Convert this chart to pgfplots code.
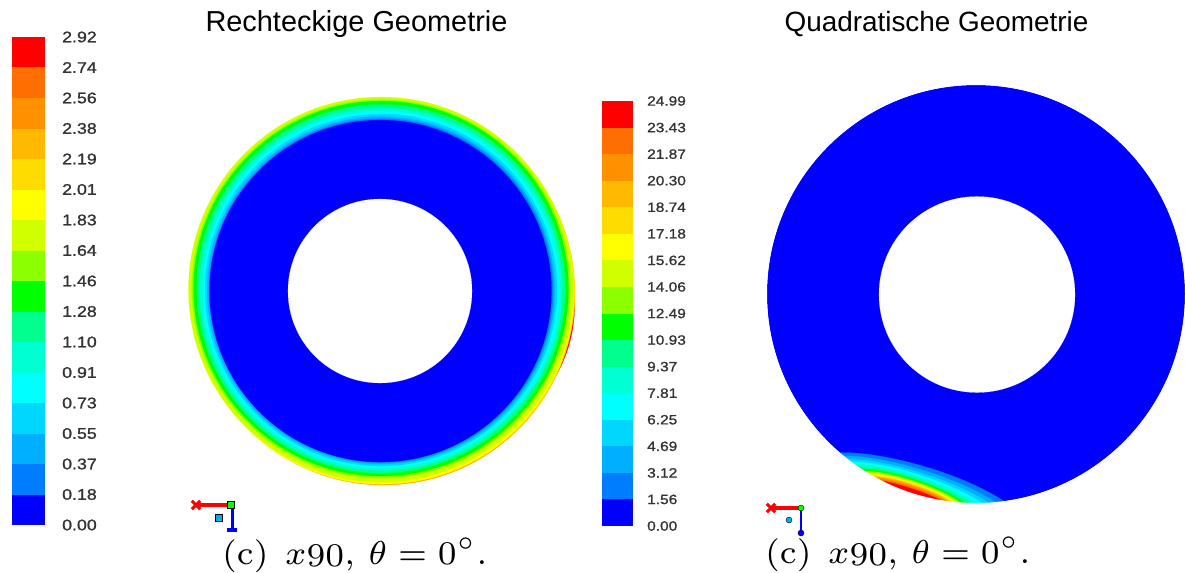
\documentclass[border=0pt]{standalone}
\usepackage{graphicx}
\usepackage{pgfplots}
\pgfplotsset{compat=1.18}
\usepackage{fontspec}
\newfontfamily\arial{Liberation Sans}
\newfontfamily\cbf[FakeStretch=1.15,FakeBold=1.2]{Liberation Sans}
\newcommand\cbfontA{\cbf\fontsize{15.5}{17}\selectfont}
\newcommand\cbfontB{\cbf\fontsize{13.5}{15}\selectfont}
\newcommand\capt{\scalebox{4.75}{\fontsize{7}{8}\selectfont (c)\hspace{0.5em}$x\raisebox{-0.07em}{$90$}$,\hspace{0.4em}$\theta=0^{\circ}$.}}
\definecolor{c1}{RGB}{255,0,0}
\definecolor{c2}{RGB}{255,110,0}
\definecolor{c3}{RGB}{255,145,0}
\definecolor{c4}{RGB}{255,185,0}
\definecolor{c5}{RGB}{255,220,0}
\definecolor{c6}{RGB}{255,255,0}
\definecolor{c7}{RGB}{210,255,0}
\definecolor{c8}{RGB}{140,255,0}
\definecolor{c9}{RGB}{0,255,0}
\definecolor{c10}{RGB}{0,255,140}
\definecolor{c11}{RGB}{0,255,210}
\definecolor{c12}{RGB}{0,255,255}
\definecolor{c13}{RGB}{0,215,255}
\definecolor{c14}{RGB}{0,175,255}
\definecolor{c15}{RGB}{0,125,255}
\definecolor{c16}{RGB}{0,0,255}
\pgfplotsset{
  pix/.style={at={(0,0)}, anchor=north west, x=1bp, y=1bp, y dir=reverse,
    xmin=0, xmax=1185, ymin=0, ymax=573, hide axis, clip=false},
  disc/.style 2 args={#1, only marks, mark=*, mark size=#2, mark options={draw=#1, fill=#1, line width=0.1pt}},
  ell/.style n args={4}{#1, only marks, mark=*, mark size=#2bp, mark options={draw=#1, fill=#1, line width=0.1pt, rotate=#4, xscale=#3/#2}},
  cbar/.style={scale only axis, ybar stacked, bar width=1, xmin=-0.5, xmax=0.5, ymin=0, ymax=16,
    xtick=\empty, ytick={0,1,2,3,4,5,6,7,8,9,10,11,12,13,14,15,16}, yticklabel pos=right,
    axis line style={draw=none}, major tick length=0pt, tick style={draw=none}, clip=false},
}
\begin{document}
\begin{tikzpicture}
\begin{axis}[pix]
% ---- left ring (Rechteckige Geometrie) ----
\addplot[disc={c1}{140.5bp}] coordinates {(434.1,305.7)};
\addplot[disc={c3}{191bp}] coordinates {(383.5,294)};
\addplot[disc={c5}{192bp}] coordinates {(383,292.5)};
\addplot[disc={c6}{192bp}] coordinates {(382,292)};
\addplot[disc={c7}{192.5bp}] coordinates {(381,289.5)};
\addplot[disc={c8}{189.25bp}] coordinates {(381,288.75)};
\addplot[disc={c9}{187.5bp}] coordinates {(381,288.5)};
\addplot[disc={c10}{184.25bp}] coordinates {(381,288.75)};
\addplot[disc={c11}{181.25bp}] coordinates {(381,289.25)};
\addplot[disc={c12}{178.5bp}] coordinates {(381,289.5)};
\addplot[disc={c13}{176bp}] coordinates {(381,290)};
\addplot[disc={c14}{173.75bp}] coordinates {(381,290.25)};
\addplot[disc={c15}{172bp}] coordinates {(381,290.5)};
\addplot[disc={c16}{171bp}] coordinates {(380.5,291)};
\addplot[disc={white}{92bp}] coordinates {(380,291)};
% ---- right ring (Quadratische Geometrie) ----
\addplot[disc={c16}{209bp}] coordinates {(976,294)};
\addplot[ell={c15}{29}{110}{-16.5}] coordinates {(916.6,494.4)};
\addplot[ell={c14}{25}{101}{-17}] coordinates {(914.9,493.9)};
\addplot[ell={c13}{22}{93}{-17.3}] coordinates {(913.8,493.6)};
\addplot[ell={c12}{19.5}{85}{-17.6}] coordinates {(912.8,493.2)};
\addplot[ell={c11}{17.5}{77}{-17.8}] coordinates {(912.1,493.0)};
\addplot[ell={c10}{15.5}{70}{-18}] coordinates {(911.4,492.8)};
\addplot[ell={c9}{13.5}{63}{-18.2}] coordinates {(910.7,492.5)};
\addplot[ell={c8}{12}{58}{-18.2}] coordinates {(910.7,492.5)};
\addplot[ell={c7}{11}{54}{-18.2}] coordinates {(910.7,492.5)};
\addplot[ell={c6}{10}{50.5}{-18.2}] coordinates {(910.7,492.5)};
\addplot[ell={c5}{9}{47}{-18.2}] coordinates {(910.7,492.5)};
\addplot[ell={c4}{8}{44.5}{-18.2}] coordinates {(910.7,492.5)};
\addplot[ell={c3}{7}{42}{-18.2}] coordinates {(910.7,492.5)};
\addplot[ell={c2}{5.5}{39.5}{-18.2}] coordinates {(910.7,492.5)};
\addplot[ell={c1}{4}{36}{-18.2}] coordinates {(910.7,492.5)};
\addplot[only marks, mark=o, mark size=229bp, mark options={draw=white, fill=none, line width=40bp}] coordinates {(976,294)};
\addplot[disc={white}{98bp}] coordinates {(977,294.5)};
\end{axis}
\begin{axis}[pix]
% ---- axis triads ----
\addplot[red, line width=3.5bp] coordinates {(196,505) (232,505)};
\addplot[only marks, mark=x, mark size=6bp, mark options={red, line width=3bp}] coordinates {(196,505)};
\addplot[blue, line width=3bp] coordinates {(232,506) (232,530)};
\addplot[blue, line width=3.5bp] coordinates {(227,530) (237,530)};
\addplot[only marks, mark=square*, mark size=3.5bp, mark options={draw=none, fill=green}] coordinates {(231,505)};
\addplot[only marks, mark=square*, mark size=3.5bp, mark options={draw=none, fill=cyan}] coordinates {(219,518)};
\addplot[red, line width=3.5bp] coordinates {(771,508) (801,508)};
\addplot[only marks, mark=x, mark size=6bp, mark options={red, line width=3bp}] coordinates {(771,508)};
\addplot[blue, line width=2bp] coordinates {(801,509) (801,533)};
\addplot[only marks, mark=*, mark size=3bp, mark options={draw=none, fill=blue}] coordinates {(801,533)};
\addplot[only marks, mark=*, mark size=3bp, mark options={draw=none, fill=green}] coordinates {(801,508)};
\addplot[only marks, mark=*, mark size=3bp, mark options={draw=none, fill=cyan}] coordinates {(789,520)};
% ---- texts ----
\node[anchor=base] at (axis cs:356.5,31) {\arial\fontsize{29}{31}\selectfont Rechteckige Geometrie};
\node[anchor=base] at (axis cs:936.5,31) {\arial\fontsize{28}{30}\selectfont Quadratische Geometrie};
\node[anchor=base west, inner sep=0pt] at (axis cs:222,564) {\capt};
\node[anchor=base west, inner sep=0pt] at (axis cs:765,563) {\capt};
\end{axis}
% ---- left colour bar ----
\begin{axis}[cbar, at={(12bp,-37bp)}, anchor=north west, width=33bp, height=488bp,
  yticklabels={0.00,0.18,0.37,0.55,0.73,0.91,1.10,1.28,1.46,1.64,1.83,2.01,2.19,2.38,2.56,2.74,2.92},
  yticklabel style={font=\cbfontA, text=black!80, anchor=west, inner sep=0pt, xshift=17bp}]
\addplot[fill=c16, draw=none] coordinates {(0,1)};
\addplot[fill=c15, draw=none] coordinates {(0,1)};
\addplot[fill=c14, draw=none] coordinates {(0,1)};
\addplot[fill=c13, draw=none] coordinates {(0,1)};
\addplot[fill=c12, draw=none] coordinates {(0,1)};
\addplot[fill=c11, draw=none] coordinates {(0,1)};
\addplot[fill=c10, draw=none] coordinates {(0,1)};
\addplot[fill=c9, draw=none] coordinates {(0,1)};
\addplot[fill=c8, draw=none] coordinates {(0,1)};
\addplot[fill=c7, draw=none] coordinates {(0,1)};
\addplot[fill=c6, draw=none] coordinates {(0,1)};
\addplot[fill=c5, draw=none] coordinates {(0,1)};
\addplot[fill=c4, draw=none] coordinates {(0,1)};
\addplot[fill=c3, draw=none] coordinates {(0,1)};
\addplot[fill=c2, draw=none] coordinates {(0,1)};
\addplot[fill=c1, draw=none] coordinates {(0,1)};
\end{axis}
% ---- right colour bar ----
\begin{axis}[cbar, at={(602bp,-101bp)}, anchor=north west, width=31bp, height=425bp,
  yticklabels={0.00,1.56,3.12,4.69,6.25,7.81,9.37,10.93,12.49,14.06,15.62,17.18,18.74,20.30,21.87,23.43,24.99},
  yticklabel style={font=\cbfontB, text=black!80, anchor=west, inner sep=0pt, xshift=14bp}]
\addplot[fill=c16, draw=none] coordinates {(0,1)};
\addplot[fill=c15, draw=none] coordinates {(0,1)};
\addplot[fill=c14, draw=none] coordinates {(0,1)};
\addplot[fill=c13, draw=none] coordinates {(0,1)};
\addplot[fill=c12, draw=none] coordinates {(0,1)};
\addplot[fill=c11, draw=none] coordinates {(0,1)};
\addplot[fill=c10, draw=none] coordinates {(0,1)};
\addplot[fill=c9, draw=none] coordinates {(0,1)};
\addplot[fill=c8, draw=none] coordinates {(0,1)};
\addplot[fill=c7, draw=none] coordinates {(0,1)};
\addplot[fill=c6, draw=none] coordinates {(0,1)};
\addplot[fill=c5, draw=none] coordinates {(0,1)};
\addplot[fill=c4, draw=none] coordinates {(0,1)};
\addplot[fill=c3, draw=none] coordinates {(0,1)};
\addplot[fill=c2, draw=none] coordinates {(0,1)};
\addplot[fill=c1, draw=none] coordinates {(0,1)};
\end{axis}
\pgfresetboundingbox
\path[use as bounding box] (0,0) rectangle (1185bp,-573bp);
\end{tikzpicture}
\end{document}
